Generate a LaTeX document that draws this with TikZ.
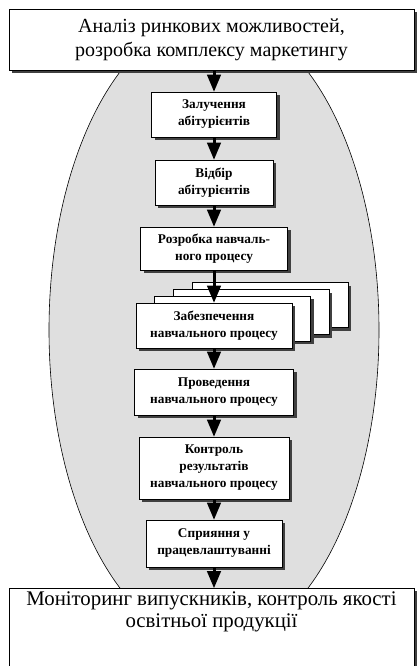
\documentclass[tikz,border=0pt]{standalone}
\usepackage{fontspec}
\setmainfont{Liberation Serif}
\usetikzlibrary{arrows,shadows}

\begin{document}
\begin{tikzpicture}[x=1pt,y=-1pt,
  shade3/.style={drop shadow={shadow xshift=3pt,shadow yshift=-3pt,opacity=1,fill=black!75}},
  big/.style={draw,fill=white,line width=0.9pt,align=center,shade3,
    font=\fontsize{20}{24}\selectfont},
  stage/.style={draw,fill=white,line width=0.9pt,align=center,shade3,inner sep=0pt,
    font=\bfseries\fontsize{13.3}{17}\selectfont},
  flow/.style={->,>=triangle 45,line width=3pt}]
\useasboundingbox (0,0) rectangle (418,666);

% grey field behind the stages
\draw[fill=gray!25,line width=0.6pt] (214,330) ellipse [x radius=165pt,y radius=314pt];

\node[big,minimum width=405pt,minimum height=61pt] (P0) at (211.5,39.5)
  {Аналіз ринкових можливостей,\\розробка комплексу маркетингу};

\node[stage,minimum width=125pt,minimum height=45pt] (P1) at (214,114.5) {Залучення\\абітурієнтів};
\node[stage,minimum width=118pt,minimum height=45pt] (P2) at (214,182.5) {Відбір\\абітурієнтів};
\node[stage,minimum width=147pt,minimum height=43pt] (P3) at (214,248.5) {Розробка навчаль-\\ного процесу};

% stacked copies
\foreach \k in {3,2,1}
  \node[stage,minimum width=156pt,minimum height=45pt] (Q\k) at (214+18.7*\k,325.5-6.7*\k) {};
\node[stage,minimum width=156pt,minimum height=45pt] (P4) at (214,325.5) {Забезпечення\\навчального процесу};

\node[stage,minimum width=159pt,minimum height=46pt] (P5) at (214,392) {Проведення\\навчального процесу};
\node[stage,minimum width=150pt,minimum height=62pt] (P6) at (214,468) {Контроль\\результатів\\навчального процесу};
\node[stage,minimum width=136pt,minimum height=47pt] (P7) at (214,543.5) {Сприяння у\\працевлаштуванні};

\node[big,minimum width=405pt,anchor=north,text depth=55pt,
  font=\fontsize{20.8}{21.5}\selectfont] (P8) at (211.5,588)
  {Моніторинг випускників, контроль якості\\освітньої продукції};

\path[flow]
  (P0.south -| P1.north) edge (P1.north)
  (P1) edge (P2)
  (P2) edge (P3)
  (P3) edge (P4)
  (P4) edge (P5)
  (P5) edge (P6)
  (P6) edge (P7)
  (P7.south) edge (P7.south |- P8.north);
\end{tikzpicture}
\end{document}
